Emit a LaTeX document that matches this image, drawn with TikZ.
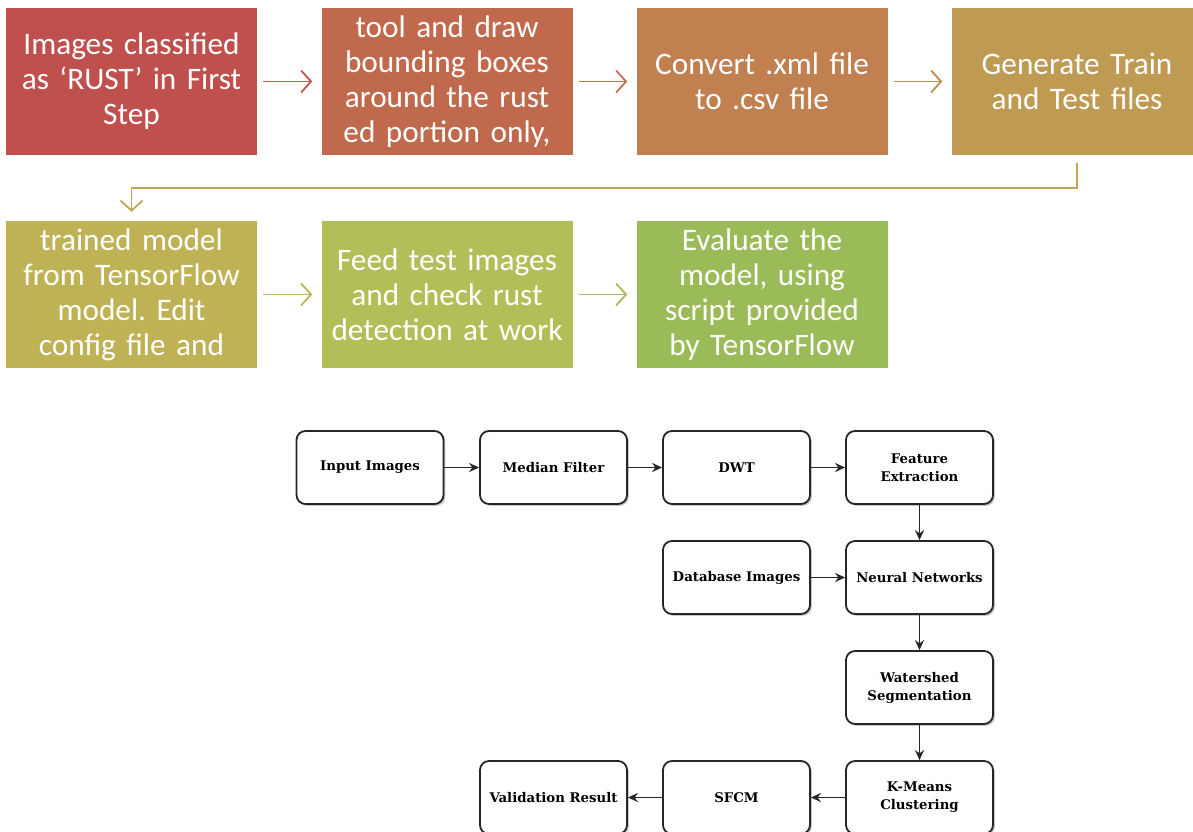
\documentclass[tikz,border=0pt]{standalone}
\usepackage{fontspec}
\setmainfont{Carlito}
\newfontfamily\serifb{DejaVu Serif}
\usetikzlibrary{arrows.meta,shadows}
\frenchspacing
\definecolor{c1}{HTML}{C0504D}
\definecolor{c2}{HTML}{C0694C}
\definecolor{c3}{HTML}{C0804F}
\definecolor{c4}{HTML}{BF9A52}
\definecolor{c5}{HTML}{BEB255}
\definecolor{c6}{HTML}{B3BE58}
\definecolor{c7}{HTML}{9BBB59}
\definecolor{a1}{HTML}{C05A4D}
\definecolor{a2}{HTML}{C0744E}
\definecolor{a3}{HTML}{BF8E50}
\definecolor{a4}{HTML}{BFA653}
\definecolor{a5}{HTML}{B9B857}
\definecolor{a6}{HTML}{A9BC59}
\tikzset{
  topbox/.style={minimum width=251pt, minimum height=147pt, inner sep=0pt,
    text width=248pt, align=center, text=white,
    font=\fontsize{31.3}{35}\selectfont},
  openarr/.style={line width=1.8pt, -{Straight Barb[length=10pt,width=22pt,line width=1.8pt]}},
  fbox/.style={draw=black!85, line width=1.8pt, rounded corners=9pt,
    minimum width=147pt, minimum height=73pt, inner sep=2pt, fill=white,
    drop shadow={shadow xshift=1.8pt, shadow yshift=-1.8pt, fill=black!45, opacity=0.5},
    align=center, font=\serifb\bfseries\fontsize{13.3}{18}\selectfont},
  farr/.style={line width=1.8pt, black!85, -{Stealth[length=10pt,width=9pt]}}
}
\begin{document}
\begin{tikzpicture}[x=1pt,y=-1pt]
\useasboundingbox (0,0) rectangle (1193,831);
\clip (0,0) rectangle (1193,831);
\fill[white] (0,0) rectangle (1193,831);
% top flow
\node[topbox, fill=c1] (t1) at (131.5,81.5) {Images classified\\as ‘RUST’ in First\\Step};
\node[topbox, fill=c2] (t2) at (447,81.5) {tool and draw\\bounding boxes\\around the rust\\ed portion only,};
\node[topbox, fill=c3] (t3) at (762,81.5) {Convert .xml file\\to .csv file};
\node[topbox, fill=c4] (t4) at (1077,81.5) {Generate Train\\and Test files};
\node[topbox, fill=c5] (t5) at (131.5,294.5) {trained model\\from TensorFlow\\model. Edit\\config file and};
\node[topbox, fill=c6] (t6) at (447,294.5) {Feed test images\\and check rust\\detection at work};
\node[topbox, fill=c7] (t7) at (762,294.5) {Evaluate the\\model, using\\script provided\\by TensorFlow};
\draw[openarr, a1, shorten <=6pt, shorten >=9pt] (t1.east) -- (t2.west);
\draw[openarr, a2, shorten <=6pt, shorten >=9pt] (t2.east) -- (t3.west);
\draw[openarr, a3, shorten <=6pt, shorten >=9pt] (t3.east) -- (t4.west);
\draw[openarr, a4, shorten <=8pt, shorten >=9pt] (t4.south) -- ++(0,33) -| (t5.north);
\draw[openarr, a5, shorten <=6pt, shorten >=9pt] (t5.east) -- (t6.west);
\draw[openarr, a6, shorten <=6pt, shorten >=9pt] (t6.east) -- (t7.west);
% bottom flow
\node[fbox] (inp) at (370,467.5) {Input Images};
\node[fbox] (med) at (553.5,467.5) {Median Filter};
\node[fbox] (dwt) at (736.5,467.5) {DWT};
\node[fbox] (fea) at (919.5,467.5) {Feature\\Extraction};
\node[fbox] (dbi) at (736.5,577.5) {Database Images};
\node[fbox] (nn) at (919.5,577.5) {Neural Networks};
\node[fbox] (ws) at (919.5,687.5) {Watershed\\Segmentation};
\node[fbox] (km) at (919.5,797.5) {K-Means\\Clustering};
\node[fbox] (sf) at (736.5,797.5) {SFCM};
\node[fbox] (val) at (553.5,797.5) {Validation Result};
\draw[farr] (inp) -- (med);
\draw[farr] (med) -- (dwt);
\draw[farr] (dwt) -- (fea);
\draw[farr] (fea) -- (nn);
\draw[farr] (dbi) -- (nn);
\draw[farr] (nn) -- (ws);
\draw[farr] (ws) -- (km);
\draw[farr] (km) -- (sf);
\draw[farr] (sf) -- (val);
\end{tikzpicture}
\end{document}
